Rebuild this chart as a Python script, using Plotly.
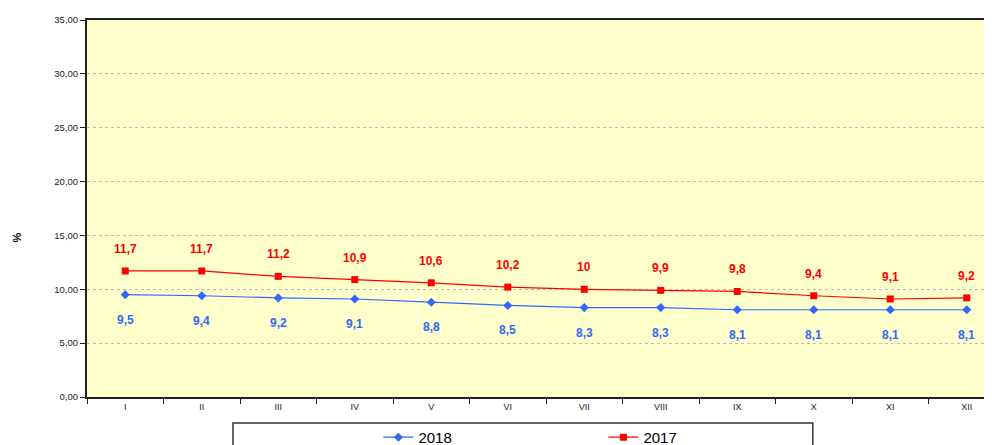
import plotly.graph_objects as go

months = ["I", "II", "III", "IV", "V", "VI", "VII", "VIII", "IX", "X", "XI", "XII"]
values_2018 = [9.5, 9.4, 9.2, 9.1, 8.8, 8.5, 8.3, 8.3, 8.1, 8.1, 8.1, 8.1]
values_2017 = [11.7, 11.7, 11.2, 10.9, 10.6, 10.2, 10.0, 9.9, 9.8, 9.4, 9.1, 9.2]
labels_2018 = ["9,5", "9,4", "9,2", "9,1", "8,8", "8,5", "8,3", "8,3", "8,1", "8,1", "8,1", "8,1"]
labels_2017 = ["11,7", "11,7", "11,2", "10,9", "10,6", "10,2", "10", "9,9", "9,8", "9,4", "9,1", "9,2"]

BLUE = "#3366FF"
RED = "#FF0000"
FONT = "Liberation Sans, Arial, sans-serif"

fig = go.Figure()
fig.add_trace(go.Scatter(
    x=months, y=values_2018, name="2018", mode="lines+markers",
    line=dict(color=BLUE, width=1.2),
    marker=dict(symbol="diamond", size=7, color=BLUE),
))
fig.add_trace(go.Scatter(
    x=months, y=values_2017, name="2017", mode="lines+markers",
    line=dict(color=RED, width=1.2),
    marker=dict(symbol="square", size=7, color=RED),
))

annotations = []
for m, v, t in zip(months, values_2018, labels_2018):
    annotations.append(dict(x=m, y=v, text=t, showarrow=False, yshift=-25,
                            font=dict(family=FONT, size=12, color=BLUE, weight="bold")))
for m, v, t in zip(months, values_2017, labels_2017):
    annotations.append(dict(x=m, y=v, text=t, showarrow=False, yshift=22,
                            font=dict(family=FONT, size=12, color=RED, weight="bold")))
annotations.append(dict(xref="paper", yref="paper", x=-0.077, y=0.424, text="%",
                        textangle=-90, showarrow=False, xanchor="center", yanchor="middle",
                        font=dict(family=FONT, size=11, color="#000", weight="bold")))

fig.update_layout(
    width=984, height=437,
    margin=dict(l=79, r=0, t=12, b=48, autoexpand=False),
    paper_bgcolor="white", plot_bgcolor="#FFFFCC",
    separators=",.",
    font=dict(family=FONT, size=9, color="#222"),
    showlegend=True,
    legend=dict(orientation="h", x=0.322, xanchor="left",
                yref="container", y=0.055, yanchor="top",
                entrywidth=180, font=dict(family=FONT, size=15, color="#000"),
                bgcolor="rgba(0,0,0,0)"),
    annotations=annotations,
    shapes=[dict(type="rect", xref="paper", yref="paper", x0=0.1613, x1=0.802,
                 y0=-0.069, y1=-0.25, line=dict(color="#333", width=1.5), layer="above")],
    xaxis=dict(range=[-0.5, 11.33], showgrid=False, showline=True, mirror=True,
               linecolor="#222", linewidth=2, ticks="outside", tickson="boundaries",
               ticklen=5, tickcolor="#222", tickfont=dict(size=9, color="#222"),
               fixedrange=True),
    yaxis=dict(range=[0, 35], dtick=5, tickformat=".2f", showgrid=True,
               gridcolor="#BBBBBB", griddash="dot", gridwidth=1,
               showline=True, linecolor="#222", linewidth=2,
               ticks="outside", ticklen=5, tickcolor="#222",
               tickfont=dict(size=9.5, color="#222"), zeroline=False),
)

fig.write_html("out.html")
